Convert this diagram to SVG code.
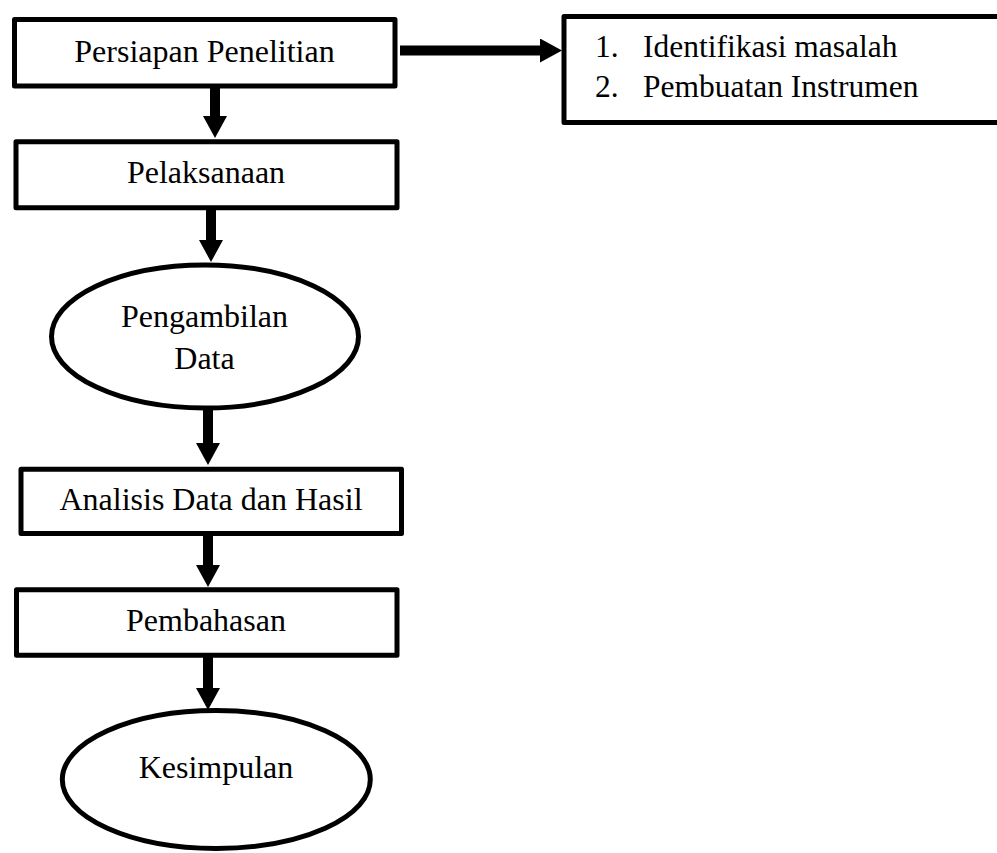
<svg xmlns="http://www.w3.org/2000/svg" width="997" height="853" viewBox="0 0 997 853">
  <style>
    .box { fill: #fff; stroke: #000; stroke-width: 5; stroke-linejoin: round; }
    .lbl { font-family: "Liberation Serif", "Times New Roman", serif; font-size: 32px; fill: #000; }
    .lst { font-family: "Liberation Serif", "Times New Roman", serif; font-size: 31.5px; fill: #000; }
    .conn { stroke: #000; stroke-width: 10; fill: none; marker-end: url(#head); }
  </style>
  <defs>
    <marker id="head" markerUnits="userSpaceOnUse" viewBox="0 0 22 24" markerWidth="22" markerHeight="24" refX="0" refY="12" orient="auto">
      <path d="M0,0 L22,12 L0,24 Z" fill="#000"/>
    </marker>
  </defs>
  <rect width="997" height="853" fill="#fff"/>

  <g id="connectors">
    <line class="conn" x1="215" y1="88" x2="215" y2="116"/>
    <line class="conn" x1="211" y1="210" x2="211" y2="240"/>
    <line class="conn" x1="208" y1="410" x2="208" y2="443"/>
    <line class="conn" x1="208" y1="536" x2="208" y2="565"/>
    <line class="conn" x1="208" y1="657" x2="208" y2="688"/>
    <line class="conn" x1="400" y1="50.5" x2="540" y2="50.5"/>
  </g>

  <g id="persiapan">
    <rect class="box" x="14.5" y="19.5" width="380.5" height="66.5"/>
    <text class="lbl" x="204.5" y="62" text-anchor="middle">Persiapan Penelitian</text>
  </g>

  <g id="kegiatan">
    <rect class="box" x="564" y="16.5" width="460" height="106"/>
    <text class="lst" x="595" y="57">1.</text>
    <text class="lst" x="643" y="57">Identifikasi masalah</text>
    <text class="lst" x="595" y="97">2.</text>
    <text class="lst" x="643" y="97">Pembuatan Instrumen</text>
  </g>

  <g id="pelaksanaan">
    <rect class="box" x="16" y="141.8" width="381" height="66"/>
    <text class="lbl" x="206" y="183" text-anchor="middle">Pelaksanaan</text>
  </g>

  <g id="pengambilan">
    <ellipse class="box" cx="205" cy="336.5" rx="153.5" ry="71.5"/>
    <text class="lbl" x="204.5" y="327" text-anchor="middle">Pengambilan</text>
    <text class="lbl" x="204.5" y="369" text-anchor="middle">Data</text>
  </g>

  <g id="analisis">
    <rect class="box" x="21" y="469.2" width="380.5" height="64.3"/>
    <text class="lbl" x="211" y="510" text-anchor="middle">Analisis Data dan Hasil</text>
  </g>

  <g id="pembahasan">
    <rect class="box" x="16.5" y="589.8" width="380.5" height="65.5"/>
    <text class="lbl" x="206" y="631" text-anchor="middle">Pembahasan</text>
  </g>

  <g id="kesimpulan">
    <ellipse class="box" cx="216.3" cy="779.5" rx="154" ry="69"/>
    <text class="lbl" x="216" y="778" text-anchor="middle">Kesimpulan</text>
  </g>
</svg>
